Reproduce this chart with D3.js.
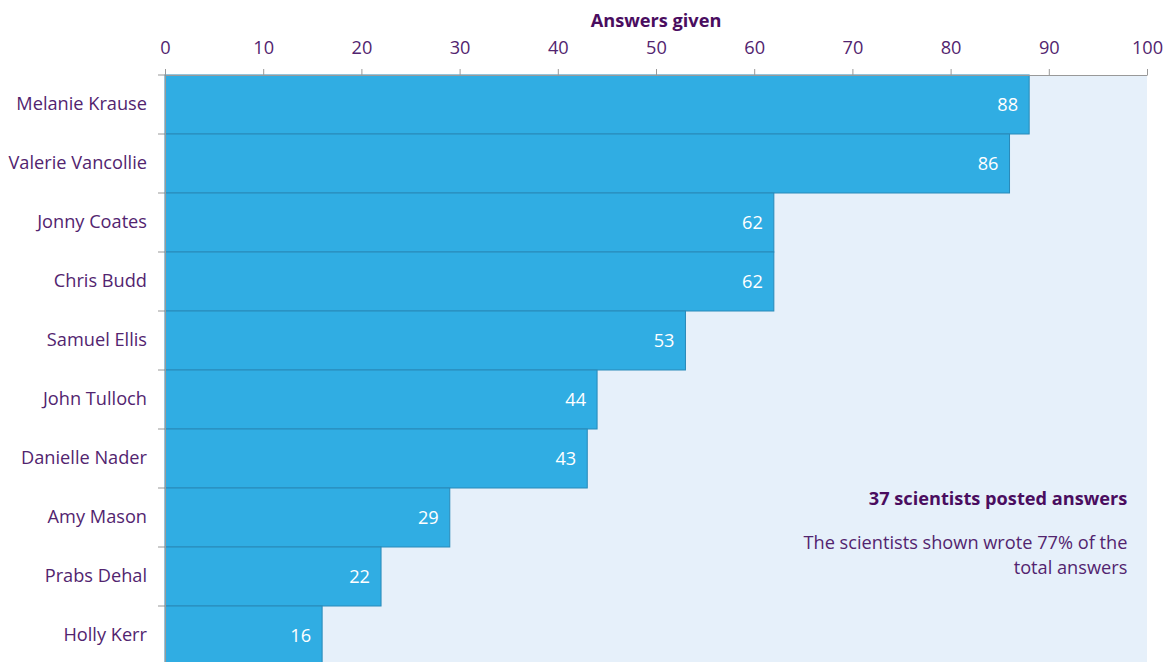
<!DOCTYPE html>
<head>
  <meta charset="utf-8">
  <script src="https://d3js.org/d3.v7.min.js"></script>
  <style>
    body { margin: 0; background: #fff; }
    text { font-family: "Open Sans", sans-serif; }
    .axis path, .axis line { stroke: #999; }
  </style>
</head>
<body>
  <script>
  var names = ["Melanie Krause", "Valerie Vancollie", "Jonny Coates", "Chris Budd", "Samuel Ellis",
               "John Tulloch", "Danielle Nader", "Amy Mason", "Prabs Dehal", "Holly Kerr"];
  var answers = [88, 86, 62, 62, 53, 44, 43, 29, 22, 16];
  var xTicks = [0, 10, 20, 30, 40, 50, 60, 70, 80, 90, 100];

  var width = 1172, height = 662;
  var margin = {top: 75, right: 25, bottom: -3, left: 165};
  var purple = "#52246f";
  var fs = "18.2px";

  var svg = d3.select("body").append("svg")
      .attr("width", width)
      .attr("height", height);

  var x = d3.scaleLinear()
      .domain([0, 100])
      .range([margin.left, width - margin.right]);

  var y = d3.scaleBand()
      .domain(names)
      .range([margin.top, height - margin.bottom])
      .padding(0);

  // plot background
  svg.append("rect")
      .attr("x", x(0))
      .attr("y", y.range()[0])
      .attr("width", x(100) - x(0))
      .attr("height", y.range()[1] - y.range()[0])
      .attr("fill", "#e6f0fa");

  // bars
  svg.selectAll(".bar")
      .data(answers)
    .enter().append("rect")
      .attr("class", "bar")
      .attr("x", x(0))
      .attr("y", function(d, i) { return y(names[i]); })
      .attr("width", function(d) { return x(d) - x(0); })
      .attr("height", y.bandwidth())
      .attr("fill", "#30ade3")
      .attr("stroke", "#2889b8")
      .attr("stroke-width", 1);

  // value labels
  svg.selectAll(".val")
      .data(answers)
    .enter().append("text")
      .attr("class", "val")
      .attr("x", function(d) { return x(d) - 11; })
      .attr("y", function(d, i) { return y(names[i]) + y.bandwidth() / 2; })
      .attr("dy", "0.35em")
      .attr("text-anchor", "end")
      .attr("fill", "#fff")
      .style("font-size", fs)
      .text(function(d) { return d; });

  // top axis
  var xAxis = svg.append("g")
      .attr("class", "axis")
      .attr("transform", "translate(0," + margin.top + ")")
      .call(d3.axisTop(x).tickValues(xTicks).tickSize(6).tickSizeOuter(0).tickPadding(15));
  xAxis.selectAll("text")
      .attr("fill", purple)
      .style("font-size", fs)
      .style("font-family", "'Open Sans', sans-serif");

  // left axis, ticks at band edges
  var yAxis = svg.append("g")
      .attr("class", "axis")
      .attr("transform", "translate(" + margin.left + ",0)")
      .call(d3.axisLeft(y).tickSize(0).tickPadding(18));
  yAxis.selectAll("text")
      .attr("fill", purple)
      .style("font-size", fs)
      .style("font-family", "'Open Sans', sans-serif");
  yAxis.selectAll(".edge")
      .data(names)
    .enter().append("line")
      .attr("class", "edge")
      .attr("x1", -7)
      .attr("x2", 0)
      .attr("y1", function(d) { return y(d); })
      .attr("y2", function(d) { return y(d); })
      .attr("stroke", "#999");

  // axis title
  svg.append("text")
      .attr("x", (x(0) + x(100)) / 2)
      .attr("y", 27)
      .attr("text-anchor", "middle")
      .attr("fill", "#4a0d5f")
      .style("font-size", fs)
      .style("font-weight", "bold")
      .text("Answers given");

  // annotation
  var note = svg.append("g")
      .attr("text-anchor", "end")
      .style("font-size", fs);
  note.append("text")
      .attr("x", x(98))
      .attr("y", 505)
      .attr("fill", "#4a0d5f")
      .style("font-weight", "bold")
      .text("37 scientists posted answers");
  note.append("text")
      .attr("x", x(98))
      .attr("y", 549)
      .attr("fill", purple)
      .text("The scientists shown wrote 77% of the");
  note.append("text")
      .attr("x", x(98))
      .attr("y", 574)
      .attr("fill", purple)
      .text("total answers");
  </script>
</body>
